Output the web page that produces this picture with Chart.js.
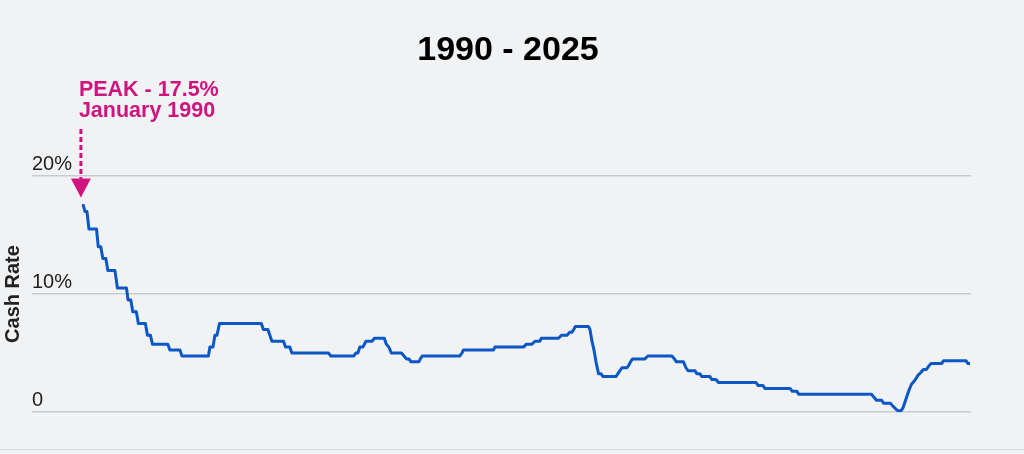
<!DOCTYPE html>
<html lang="en">
<head>
    <meta charset="UTF-8">
    <title>Cash Rate 1990 - 2025</title>
    <script src="https://cdn.jsdelivr.net/npm/chart.js"></script>
    <style>
        body {
            margin: 0;
            background-color: #f1f2f4;
            font-family: "Liberation Sans", Arial, sans-serif;
        }

        .chart-container {
            width: 1024px;
            height: 449px;
            border-bottom: 1px solid #d7d8dc;
        }
    </style>
</head>
<body>
    <div class="chart-container">
        <canvas id="rateChart" width="1024" height="449"></canvas>
    </div>
    <script>
        // cash rate (%) and the time (decimal years) where each point sits on the picture
        const dates = [
            1990.00, 1990.06, 1990.12, 1990.20, 1990.28, 1990.58, 1990.65, 1990.75, 1990.83, 1990.95,
            1991.03, 1991.31, 1991.41, 1991.77, 1991.83, 1991.94, 1992.02, 1992.16, 1992.24, 1992.52,
            1992.60, 1992.72, 1992.80, 1993.41, 1993.49, 1993.89, 1993.97, 1995.02, 1995.08, 1995.20,
            1995.28, 1995.36, 1995.46, 1997.12, 1997.20, 1997.38, 1997.54, 1998.00, 1998.08, 1998.25,
            1998.33, 1999.78, 1999.88, 2000.79, 2000.87, 2000.95, 2001.03, 2001.15, 2001.27, 2001.51,
            2001.61, 2002.00, 2002.08, 2002.18, 2002.28, 2002.68, 2002.78, 2002.88, 2002.98, 2003.06,
            2003.37, 2003.43, 2003.51, 2005.00, 2005.08, 2005.14, 2006.33, 2006.39, 2007.52, 2007.64,
            2007.86, 2007.98, 2008.17, 2008.23, 2008.91, 2009.03, 2009.25, 2009.35, 2009.44, 2009.52,
            2009.58, 2010.10, 2010.16, 2010.24, 2010.32, 2010.40, 2010.50, 2010.60, 2010.67, 2011.19,
            2011.27, 2011.35, 2011.43, 2011.63, 2011.71, 2011.77, 2011.85, 2012.34, 2012.46, 2013.41,
            2013.51, 2013.59, 2013.87, 2013.97, 2014.05, 2014.33, 2014.40, 2014.52, 2014.60, 2014.92,
            2015.00, 2015.16, 2015.26, 2016.75, 2016.83, 2017.02, 2017.10, 2018.10, 2018.19, 2018.37,
            2018.45, 2021.33, 2021.43, 2021.53, 2021.73, 2021.81, 2022.08, 2022.18, 2022.30, 2022.38,
            2022.50, 2022.58, 2022.66, 2022.74, 2022.82, 2022.92, 2023.02, 2023.10, 2023.17, 2023.29,
            2023.39, 2023.51, 2023.59, 2023.69, 2024.11, 2024.19, 2025.08, 2025.16, 2025.24
        ];

        const rates = [
            17.5, 17.5, 17.0, 17.0, 15.5, 15.5, 14.0, 14.0, 13.0, 13.0,
            12.0, 12.0, 10.5, 10.5, 9.5, 9.5, 8.5, 8.5, 7.5, 7.5,
            6.5, 6.5, 5.75, 5.75, 5.25, 5.25, 4.75, 4.75, 5.5, 5.5,
            6.5, 6.5, 7.5, 7.5, 7.0, 7.0, 6.0, 6.0, 5.5, 5.5,
            5.0, 5.0, 4.75, 4.75, 5.0, 5.0, 5.5, 5.5, 6.0, 6.0,
            6.25, 6.25, 5.75, 5.5, 5.0, 5.0, 4.75, 4.5, 4.5, 4.25,
            4.25, 4.5, 4.75, 4.75, 5.0, 5.25, 5.25, 5.5, 5.5, 5.75,
            5.75, 6.0, 6.0, 6.25, 6.25, 6.5, 6.5, 6.75, 6.75, 7.0,
            7.25, 7.25, 7.0, 6.0, 5.25, 4.25, 3.25, 3.25, 3.0, 3.0,
            3.25, 3.5, 3.75, 3.75, 4.0, 4.25, 4.5, 4.5, 4.75, 4.75,
            4.5, 4.25, 4.25, 3.75, 3.5, 3.5, 3.25, 3.25, 3.0, 3.0,
            2.75, 2.75, 2.5, 2.5, 2.25, 2.25, 2.0, 2.0, 1.75, 1.75,
            1.5, 1.5, 1.25, 1.0, 1.0, 0.75, 0.75, 0.5, 0.25, 0.1,
            0.1, 0.35, 0.85, 1.35, 1.85, 2.35, 2.6, 2.85, 3.1, 3.35,
            3.6, 3.6, 3.85, 4.1, 4.1, 4.35, 4.35, 4.1, 4.1
        ];

        const yTicks = [0, 10, 20];
        const yTickLabels = ['0', '10%', '20%'];
        const chartTitle = '1990 - 2025';
        const axisTitle = 'Cash Rate';
        const peakLabel = ['PEAK - 17.5%', 'January 1990'];

        const FONT = '"Liberation Sans", Arial, sans-serif';
        const PINK = '#cf1480';

        Chart.defaults.font.family = FONT;

        // page title (centred on the page, not on the plot) + dashed arrow to the first point
        const peakArrow = {
            id: 'peakArrow',
            afterDatasetsDraw(chart) {
                const { ctx, scales } = chart;
                const px = scales.x.getPixelForValue(dates[0]) - 1;
                const tipY = scales.y.getPixelForValue(rates[0]) - 8;
                const headH = 19;
                const headW = 20;

                ctx.save();
                ctx.fillStyle = '#000';
                ctx.font = 'bold 34px ' + FONT;
                ctx.textAlign = 'center';
                ctx.textBaseline = 'middle';
                ctx.fillText(chartTitle, 508, 51);

                ctx.fillStyle = PINK;
                ctx.font = 'bold 21.5px ' + FONT;
                ctx.textBaseline = 'alphabetic';
                ctx.textAlign = 'left';
                ctx.fillText(peakLabel[0], px - 2, 95.5);
                ctx.fillText(peakLabel[1], px - 2, 116.5);

                ctx.strokeStyle = PINK;
                ctx.lineWidth = 3;
                ctx.setLineDash([5, 3]);
                ctx.beginPath();
                ctx.moveTo(px, 129);
                ctx.lineTo(px, tipY - headH + 1);
                ctx.stroke();
                ctx.setLineDash([]);

                ctx.beginPath();
                ctx.moveTo(px - headW / 2, tipY - headH);
                ctx.lineTo(px + headW / 2, tipY - headH);
                ctx.lineTo(px, tipY);
                ctx.closePath();
                ctx.fill();
                ctx.restore();
            }
        };

        const ctx = document.getElementById('rateChart').getContext('2d');

        new Chart(ctx, {
            type: 'line',
            data: {
                datasets: [{
                    label: axisTitle,
                    data: dates.map((d, i) => ({ x: d, y: rates[i] })),
                    borderColor: '#0b57c5',
                    borderWidth: 3,
                    borderJoinStyle: 'round',
                    pointRadius: 0,
                    tension: 0,
                    fill: false
                }]
            },
            options: {
                responsive: false,
                animation: false,
                layout: {
                    padding: { left: 1, right: 53, top: 176, bottom: 37 }
                },
                plugins: {
                    legend: { display: false },
                    tooltip: { enabled: false },
                    title: { display: false }
                },
                scales: {
                    x: {
                        type: 'linear',
                        display: false,
                        min: 1988.02,
                        max: 2025.28
                    },
                    y: {
                        min: 0,
                        max: 20,
                        afterBuildTicks: scale => {
                            scale.ticks = yTicks.map(v => ({ value: v }));
                        },
                        border: { display: false },
                        grid: {
                            color: '#c9cacd',
                            lineWidth: 1.5,
                            drawTicks: false
                        },
                        ticks: {
                            mirror: true,
                            padding: 0,
                            labelOffset: -12,
                            color: '#222',
                            font: { size: 20 },
                            callback: value => yTickLabels[yTicks.indexOf(value)]
                        },
                        title: {
                            display: true,
                            text: axisTitle,
                            color: '#222',
                            font: { size: 20, weight: 'bold' },
                            padding: { top: 0, bottom: 7 }
                        }
                    }
                }
            },
            plugins: [peakArrow]
        });
    </script>
</body>
</html>
